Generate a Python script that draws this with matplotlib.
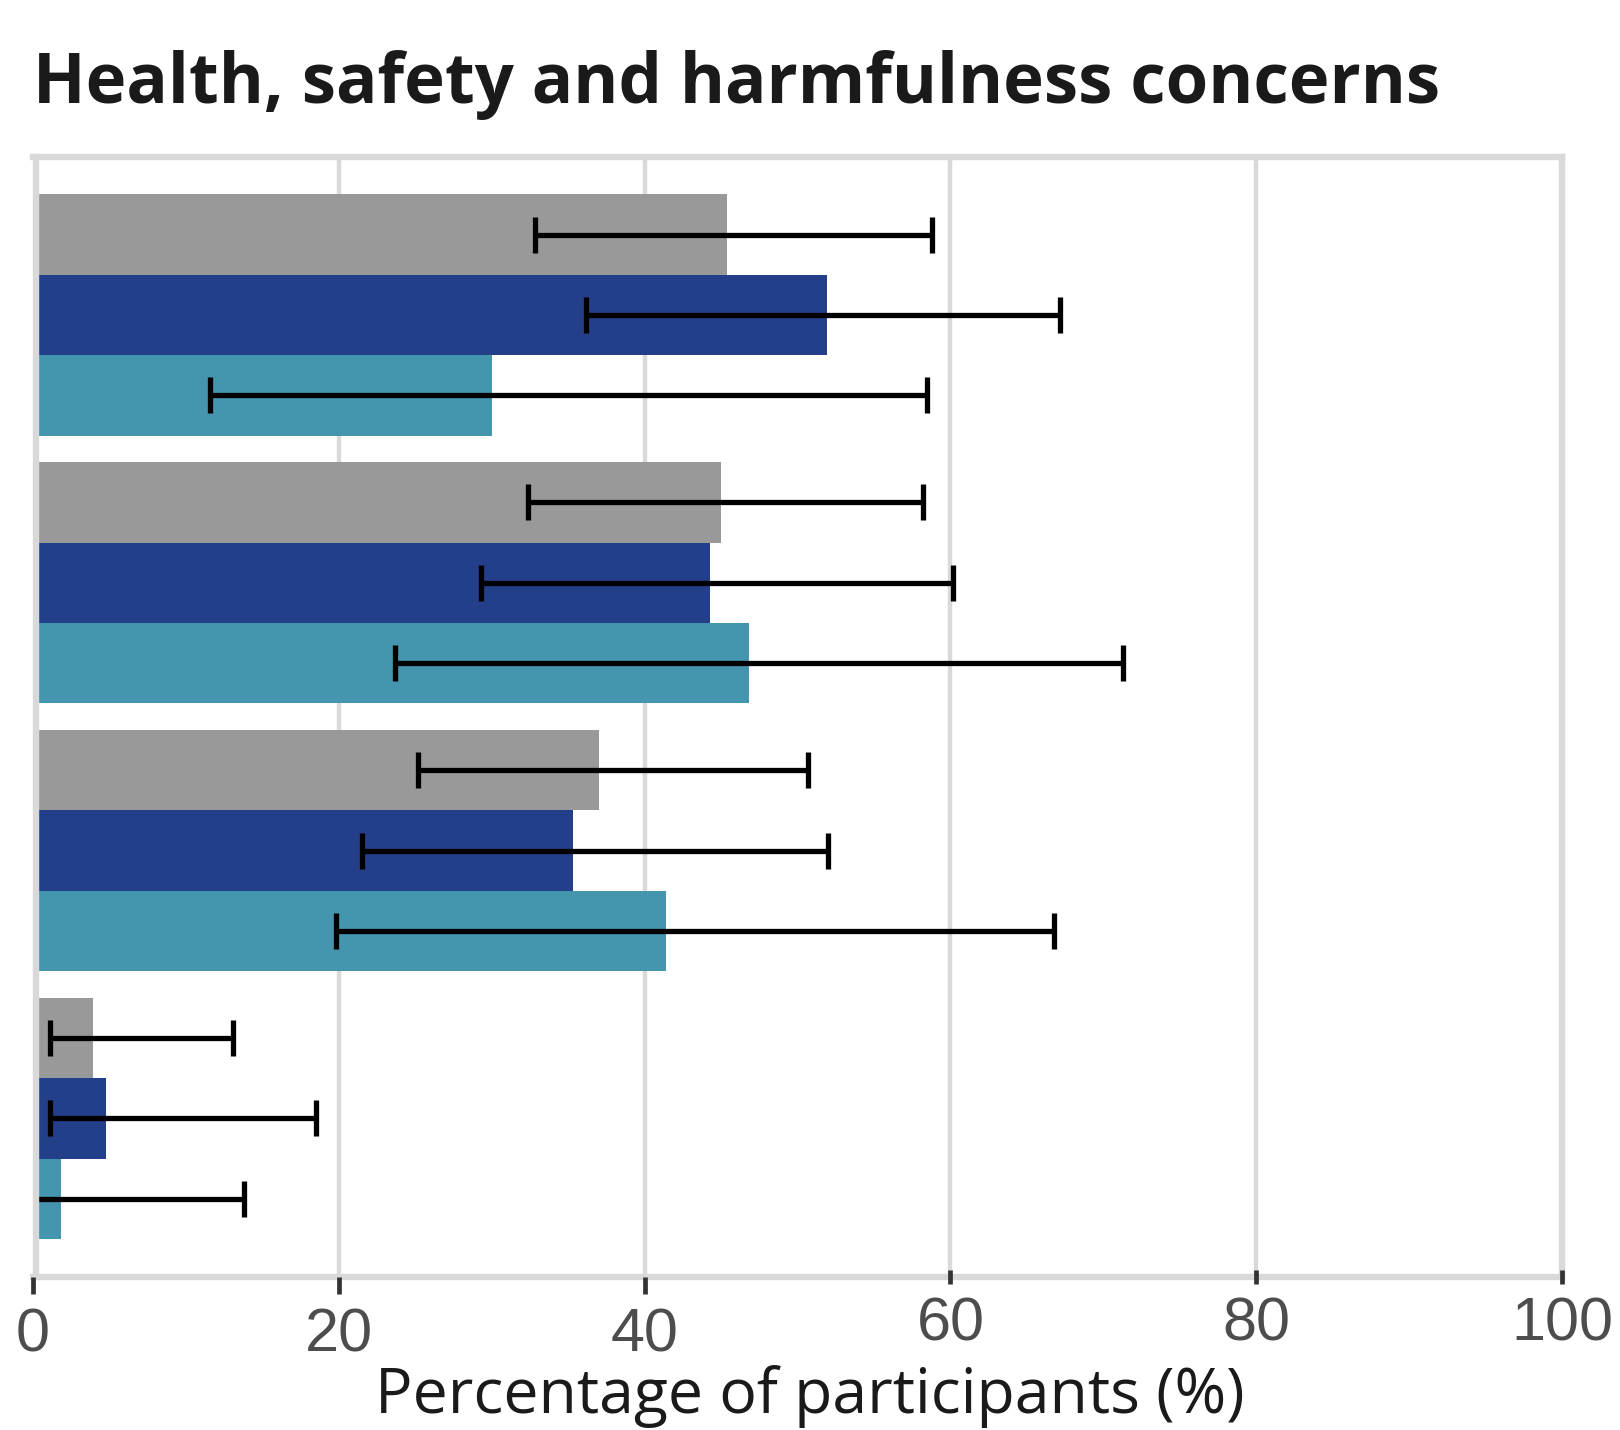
import matplotlib
matplotlib.use("Agg")
import matplotlib.pyplot as plt
import numpy as np

# Four concern items (top to bottom), three respondent groups each
n_items = 4
series_colors = ["#999999", "#233F89", "#4595AF"]

gray_vals = [45.4, 45.0, 37.0, 3.9]
gray_lo = [32.8, 32.4, 25.2, 1.1]
gray_hi = [58.8, 58.2, 50.7, 13.1]

blue_vals = [51.9, 44.3, 35.3, 4.8]
blue_lo = [36.2, 29.3, 21.5, 1.1]
blue_hi = [67.2, 60.2, 52.0, 18.5]

teal_vals = [30.0, 46.8, 41.4, 1.8]
teal_lo = [11.6, 23.7, 19.8, 0.0]
teal_hi = [58.5, 71.3, 66.8, 13.8]

x_ticks = [0, 20, 40, 60, 80, 100]
title = "Health, safety and harmfulness concerns"
x_label = "Percentage of participants (%)"

W, H = 1620, 1430
fig = plt.figure(figsize=(W / 100, H / 100), dpi=100)
fig.patch.set_facecolor("white")

left, right, top, bottom = 33, 1562, 157, 1276.5
ax = fig.add_axes([left / W, 1 - bottom / H, (right - left) / W, (bottom - top) / H])

bar_h = 0.3
y = np.arange(n_items)
series = [
    (gray_vals, gray_lo, gray_hi),
    (blue_vals, blue_lo, blue_hi),
    (teal_vals, teal_lo, teal_hi),
]
for k, ((vals, lo, hi), color) in enumerate(zip(series, series_colors)):
    vals = np.asarray(vals)
    lo = np.asarray(lo)
    hi = np.asarray(hi)
    yy = y + (k - 1) * bar_h
    ax.barh(yy, vals, height=bar_h, color=color, zorder=1.5, linewidth=0)
    ax.errorbar(vals, yy, xerr=[vals - lo, hi - vals], fmt="none",
                ecolor="black", elinewidth=3.8, capsize=13, capthick=3.8,
                zorder=2.2)

# vertical grid lines
for t in x_ticks:
    ax.axvline(t, color="#d9d9d9", linewidth=3.2, zorder=0.5)

ax.set_xlim(0, 100)
ax.set_ylim(n_items - 1 + 0.59, -0.59)
ax.set_yticks([])

for sp in ax.spines.values():
    sp.set_color("#d9d9d9")
    sp.set_linewidth(4.6)
    sp.set_zorder(2.4)
ax.spines["left"].set_position(("outward", -2.2))

# first three ticks hang below the frame, the rest straddle it
ax.set_xticks(x_ticks[:3])
ax.set_xticks(x_ticks[3:], minor=True)
ax.set_xticklabels([str(t) for t in x_ticks[:3]])
ax.set_xticklabels([str(t) for t in x_ticks[3:]], minor=True)
for lbl in ax.get_xticklabels() + ax.get_xticklabels(minor=True):
    lbl.set_fontfamily("Liberation Sans")
    lbl.set_fontsize(44)
    lbl.set_color("#4d4d4d")
ax.tick_params(axis="x", which="major", direction="out", length=11.9,
               width=3.4, color="#333333", pad=10.5)
ax.tick_params(axis="x", which="minor", direction="inout", length=10,
               width=3.4, color="#333333", pad=9.5)
ax.tick_params(axis="y", which="both", length=0)
ax.xaxis.set_zorder(2.5)

fig.text(left / W, 1 - 102.5 / H, title, fontfamily="Open Sans",
         fontweight="bold", fontsize=49.5, color="#1a1a1a",
         ha="left", va="baseline")
fig.text(0.5, 1 - 1413 / H, x_label, fontfamily="Open Sans",
         fontsize=45, color="#1a1a1a", ha="center", va="baseline")

fig.savefig("out.png", dpi=100, facecolor="white")
